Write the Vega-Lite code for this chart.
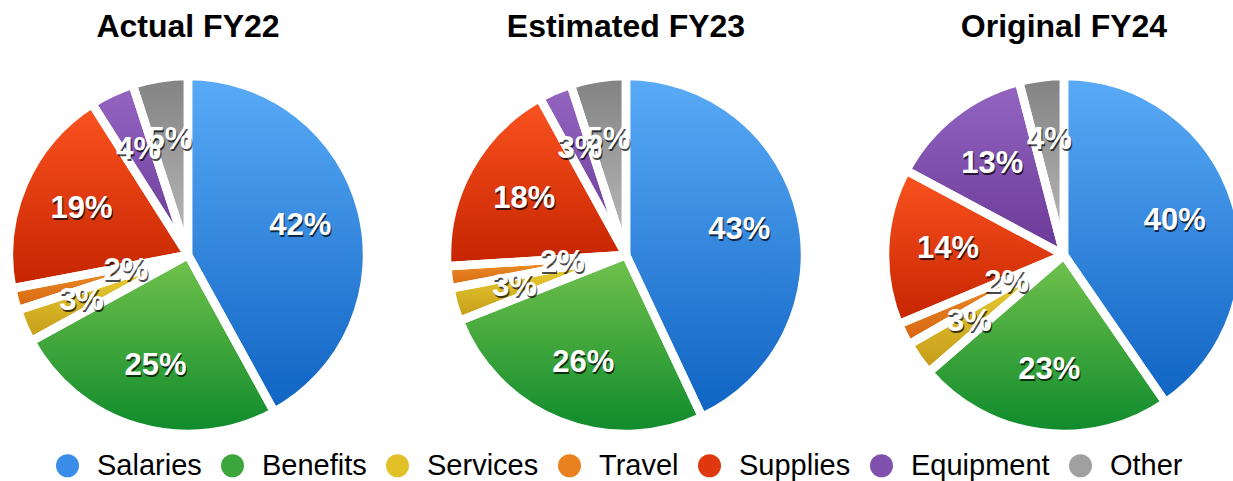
{
  "$schema": "https://vega.github.io/schema/vega-lite/v6.json",
  "padding": {"left": 4, "top": 11, "right": 0, "bottom": 0},
  "bounds": "flush",
  "background": "white",
  "data": {"values": [
    {"year": "Actual FY22", "category": "Salaries", "k": 1, "pct": 0.42},
    {"year": "Actual FY22", "category": "Benefits", "k": 2, "pct": 0.25},
    {"year": "Actual FY22", "category": "Services", "k": 3, "pct": 0.03},
    {"year": "Actual FY22", "category": "Travel", "k": 4, "pct": 0.02},
    {"year": "Actual FY22", "category": "Supplies", "k": 5, "pct": 0.19},
    {"year": "Actual FY22", "category": "Equipment", "k": 6, "pct": 0.04},
    {"year": "Actual FY22", "category": "Other", "k": 7, "pct": 0.05},
    {"year": "Estimated FY23", "category": "Salaries", "k": 1, "pct": 0.43},
    {"year": "Estimated FY23", "category": "Benefits", "k": 2, "pct": 0.26},
    {"year": "Estimated FY23", "category": "Services", "k": 3, "pct": 0.03},
    {"year": "Estimated FY23", "category": "Travel", "k": 4, "pct": 0.02},
    {"year": "Estimated FY23", "category": "Supplies", "k": 5, "pct": 0.18},
    {"year": "Estimated FY23", "category": "Equipment", "k": 6, "pct": 0.03},
    {"year": "Estimated FY23", "category": "Other", "k": 7, "pct": 0.05},
    {"year": "Original FY24", "category": "Salaries", "k": 1, "pct": 0.40},
    {"year": "Original FY24", "category": "Benefits", "k": 2, "pct": 0.23},
    {"year": "Original FY24", "category": "Services", "k": 3, "pct": 0.03},
    {"year": "Original FY24", "category": "Travel", "k": 4, "pct": 0.02},
    {"year": "Original FY24", "category": "Supplies", "k": 5, "pct": 0.14},
    {"year": "Original FY24", "category": "Equipment", "k": 6, "pct": 0.13},
    {"year": "Original FY24", "category": "Other", "k": 7, "pct": 0.04}
  ]},
  "facet": {
    "column": {
      "field": "year", "type": "nominal",
      "sort": ["Actual FY22", "Estimated FY23", "Original FY24"],
      "header": {"title": null, "labelFontSize": 32, "labelFontWeight": "bold", "labelFont": "Liberation Sans", "labelColor": "black", "labelPadding": 36}
    }
  },
  "spacing": 88,
  "spec": {
    "width": 350,
    "height": 350,
    "encoding": {
      "theta": {"field": "pct", "type": "quantitative", "stack": "normalize"},
      "order": {"field": "k", "type": "quantitative"}
    },
    "layer": [
      {
        "mark": {"type": "arc", "radius": 179},
        "encoding": {
          "color": {
            "field": "category", "type": "nominal",
            "scale": {
              "domain": ["Salaries", "Benefits", "Services", "Travel", "Supplies", "Equipment", "Other"],
              "range": ["#3a8ee9", "#3aa63c", "#e2c028", "#e8821e", "#e0380e", "#8050ae", "#a0a0a0"]
            },
            "legend": {
              "title": null, "orient": "none", "legendX": 40, "legendY": 371, "direction": "horizontal",
              "symbolType": "circle", "symbolSize": 529, "symbolStrokeWidth": 0,
              "labelFontSize": 29, "labelFont": "Liberation Sans", "labelColor": "black",
              "labelOffset": 15, "columnPadding": 16
            }
          }
        }
      },
      {
        "mark": {"type": "arc", "radius": 179, "fill": {"gradient": "linear", "x1": 0, "y1": 0, "x2": 0, "y2": 1, "stops": [{"offset": 0, "color": "#5aabf7"}, {"offset": 1, "color": "#0f63c2"}]}},
        "encoding": {"fillOpacity": {"condition": {"test": "datum.category === 'Salaries'", "value": 1}, "value": 0}}
      },
      {
        "mark": {"type": "arc", "radius": 179, "fill": {"gradient": "linear", "x1": 0, "y1": 0, "x2": 0, "y2": 1, "stops": [{"offset": 0, "color": "#72c24c"}, {"offset": 1, "color": "#0e8a2c"}]}},
        "encoding": {"fillOpacity": {"condition": {"test": "datum.category === 'Benefits'", "value": 1}, "value": 0}}
      },
      {
        "mark": {"type": "arc", "radius": 179, "fill": {"gradient": "linear", "x1": 0, "y1": 0, "x2": 0, "y2": 1, "stops": [{"offset": 0, "color": "#f1d83a"}, {"offset": 1, "color": "#c49a18"}]}},
        "encoding": {"fillOpacity": {"condition": {"test": "datum.category === 'Services'", "value": 1}, "value": 0}}
      },
      {
        "mark": {"type": "arc", "radius": 179, "fill": {"gradient": "linear", "x1": 0, "y1": 0, "x2": 0, "y2": 1, "stops": [{"offset": 0, "color": "#f39a30"}, {"offset": 1, "color": "#d5640e"}]}},
        "encoding": {"fillOpacity": {"condition": {"test": "datum.category === 'Travel'", "value": 1}, "value": 0}}
      },
      {
        "mark": {"type": "arc", "radius": 179, "fill": {"gradient": "linear", "x1": 0, "y1": 0, "x2": 0, "y2": 1, "stops": [{"offset": 0, "color": "#fc5320"}, {"offset": 1, "color": "#c42400"}]}},
        "encoding": {"fillOpacity": {"condition": {"test": "datum.category === 'Supplies'", "value": 1}, "value": 0}}
      },
      {
        "mark": {"type": "arc", "radius": 179, "fill": {"gradient": "linear", "x1": 0, "y1": 0, "x2": 0, "y2": 1, "stops": [{"offset": 0, "color": "#9466c2"}, {"offset": 1, "color": "#6a3896"}]}},
        "encoding": {"fillOpacity": {"condition": {"test": "datum.category === 'Equipment'", "value": 1}, "value": 0}}
      },
      {
        "mark": {"type": "arc", "radius": 179, "fill": {"gradient": "linear", "x1": 0, "y1": 0, "x2": 0, "y2": 1, "stops": [{"offset": 0, "color": "#828282"}, {"offset": 1, "color": "#bdbdbd"}]}},
        "encoding": {"fillOpacity": {"condition": {"test": "datum.category === 'Other'", "value": 1}, "value": 0}}
      },
      {
        "mark": {"type": "arc", "radius": 179, "fill": "white", "fillOpacity": 0, "stroke": "white", "strokeWidth": 8.5, "strokeJoin": "bevel"}
      },
      {
        "mark": {"type": "text", "radius": 116, "fontSize": 31, "fontWeight": "bold", "font": "Liberation Sans", "fill": "black", "dx": 1, "dy": 2},
        "encoding": {
          "text": {"field": "pct", "type": "quantitative", "format": ".0%"},
          "opacity": {"condition": {"test": "datum.category === 'Travel'", "value": 0}, "value": 0.7}
        }
      },
      {
        "mark": {"type": "text", "radius": 116, "fontSize": 31, "fontWeight": "bold", "font": "Liberation Sans", "fill": "white"},
        "encoding": {
          "text": {"field": "pct", "type": "quantitative", "format": ".0%"},
          "opacity": {"condition": {"test": "datum.category === 'Travel'", "value": 0}, "value": 1}
        }
      },
      {
        "mark": {"type": "text", "radius": 64, "fontSize": 31, "fontWeight": "bold", "font": "Liberation Sans", "fill": "black", "dx": 1, "dy": 2},
        "encoding": {
          "text": {"field": "pct", "type": "quantitative", "format": ".0%"},
          "opacity": {"condition": {"test": "datum.category === 'Travel'", "value": 0.7}, "value": 0}
        }
      },
      {
        "mark": {"type": "text", "radius": 64, "fontSize": 31, "fontWeight": "bold", "font": "Liberation Sans", "fill": "white"},
        "encoding": {
          "text": {"field": "pct", "type": "quantitative", "format": ".0%"},
          "opacity": {"condition": {"test": "datum.category === 'Travel'", "value": 1}, "value": 0}
        }
      }
    ]
  },
  "config": {"view": {"stroke": null}}
}
